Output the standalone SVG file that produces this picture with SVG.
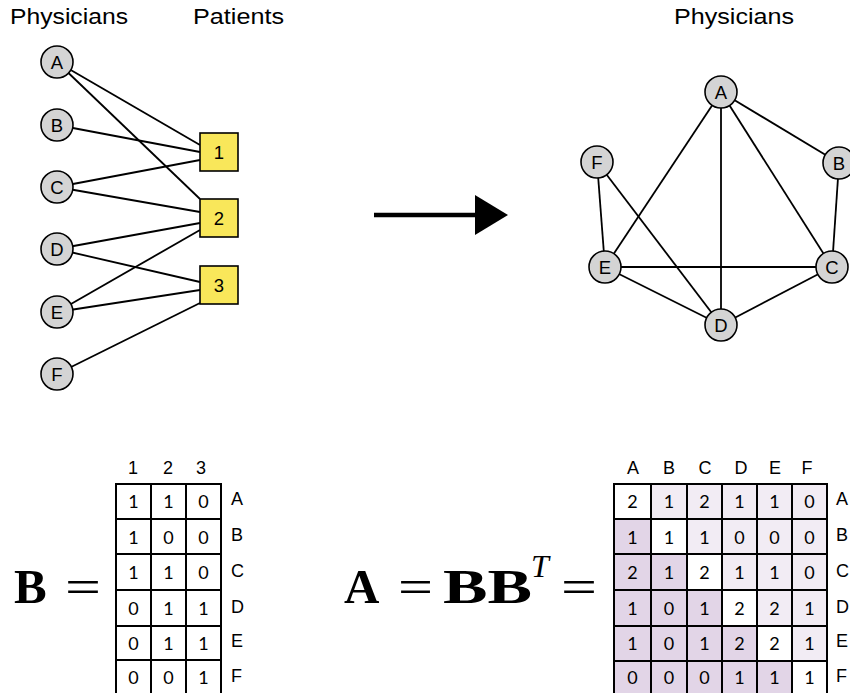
<svg xmlns="http://www.w3.org/2000/svg" width="850" height="693" viewBox="0 0 850 693">
<style>
.t{font-family:"Liberation Sans",Arial,sans-serif;fill:#000}
.title{font-size:22px}
.nl{font-size:18.5px;text-anchor:middle;dominant-baseline:central}
.lbl{font-size:18px}
.hd{font-size:18px;text-anchor:middle}
.c{fill:#d4d4d4;stroke:#000;stroke-width:1.6}
.sq{fill:#f9e75a;stroke:#000;stroke-width:1.6}
.e{stroke:#000;stroke-width:1.8;fill:none}
.num{font-family:Lato,"Open Sans","Liberation Sans",sans-serif;font-size:18px;text-anchor:middle;dominant-baseline:central;fill:#000}
.g{stroke:#000;stroke-width:2;fill:none}
.m{font-family:"Liberation Serif","Times New Roman",serif;font-weight:bold;font-size:49px;fill:#000}
.eq{font-family:"Liberation Serif","Times New Roman",serif;font-size:49px;fill:#000}
.wh{fill:#ffffff}.up{fill:#f2ecf4}.lo{fill:#e2d5e7}
</style>

<text class="t title" x="10" y="24" textLength="118" lengthAdjust="spacingAndGlyphs">Physicians</text>
<text class="t title" x="193" y="24" textLength="91" lengthAdjust="spacingAndGlyphs">Patients</text>
<text class="t title" x="674" y="24" textLength="120" lengthAdjust="spacingAndGlyphs">Physicians</text>

<g id="connectors">
  <line class="e" x1="57" y1="62" x2="200" y2="145"/>
  <line class="e" x1="57" y1="62" x2="200" y2="199"/>
  <line class="e" x1="57" y1="125" x2="200" y2="152"/>
  <line class="e" x1="57" y1="187" x2="200" y2="160"/>
  <line class="e" x1="57" y1="187" x2="200" y2="212"/>
  <line class="e" x1="57" y1="249" x2="200" y2="223"/>
  <line class="e" x1="57" y1="249" x2="200" y2="282"/>
  <line class="e" x1="57" y1="312" x2="200" y2="230"/>
  <line class="e" x1="57" y1="312" x2="200" y2="290"/>
  <line class="e" x1="57" y1="374" x2="200" y2="303"/>
  <line x1="374" y1="215" x2="478" y2="215" stroke="#000" stroke-width="4.5"/>
  <polygon points="475,195 508,215 475,235" fill="#000"/>
  <line class="e" x1="721" y1="92" x2="839" y2="163"/>
  <line class="e" x1="721" y1="92" x2="832" y2="267"/>
  <line class="e" x1="721" y1="92" x2="721" y2="325"/>
  <line class="e" x1="721" y1="92" x2="605" y2="267"/>
  <line class="e" x1="839" y1="163" x2="832" y2="267"/>
  <line class="e" x1="832" y1="267" x2="721" y2="325"/>
  <line class="e" x1="832" y1="267" x2="605" y2="267"/>
  <line class="e" x1="721" y1="325" x2="605" y2="267"/>
  <line class="e" x1="605" y1="267" x2="597" y2="162"/>
  <line class="e" x1="597" y1="162" x2="721" y2="325"/>
</g>

<g id="pA"><circle class="c" cx="57" cy="62" r="16"/><text class="t nl" x="57" y="62">A</text></g>
<g id="pB"><circle class="c" cx="57" cy="125" r="16"/><text class="t nl" x="57" y="125">B</text></g>
<g id="pC"><circle class="c" cx="57" cy="187" r="16"/><text class="t nl" x="57" y="187">C</text></g>
<g id="pD"><circle class="c" cx="57" cy="249" r="16"/><text class="t nl" x="57" y="249">D</text></g>
<g id="pE"><circle class="c" cx="57" cy="312" r="16"/><text class="t nl" x="57" y="312">E</text></g>
<g id="pF"><circle class="c" cx="57" cy="374" r="16"/><text class="t nl" x="57" y="374">F</text></g>

<g id="pat1"><rect class="sq" x="200" y="133" width="38" height="38"/><text class="t nl" x="219" y="152">1</text></g>
<g id="pat2"><rect class="sq" x="200" y="199" width="38" height="38"/><text class="t nl" x="219" y="218">2</text></g>
<g id="pat3"><rect class="sq" x="200" y="266" width="38" height="38"/><text class="t nl" x="219" y="285">3</text></g>

<g id="qA"><circle class="c" cx="721" cy="92" r="16"/><text class="t nl" x="721" y="92">A</text></g>
<g id="qB"><circle class="c" cx="839" cy="163" r="16"/><text class="t nl" x="839" y="163">B</text></g>
<g id="qC"><circle class="c" cx="832" cy="267" r="16"/><text class="t nl" x="832" y="267">C</text></g>
<g id="qD"><circle class="c" cx="721" cy="325" r="16"/><text class="t nl" x="721" y="325">D</text></g>
<g id="qE"><circle class="c" cx="605" cy="267" r="16"/><text class="t nl" x="605" y="267">E</text></g>
<g id="qF"><circle class="c" cx="597" cy="162" r="16"/><text class="t nl" x="597" y="162">F</text></g>

<!-- Matrix B -->
<g id="matB">
  <text class="m" x="14" y="603">B</text>
  <text class="eq" x="65" y="603" textLength="36" lengthAdjust="spacingAndGlyphs">=</text>
  <text class="t hd" x="133" y="474">1</text>
  <text class="t hd" x="168" y="474">2</text>
  <text class="t hd" x="201" y="474">3</text>
  <g class="g">
    <line x1="116" y1="483" x2="116" y2="693"/>
    <line x1="151" y1="483" x2="151" y2="693"/>
    <line x1="186" y1="483" x2="186" y2="693"/>
    <line x1="221" y1="483" x2="221" y2="693"/>
    <line x1="116" y1="484" x2="221" y2="484"/>
    <line x1="116" y1="519" x2="221" y2="519"/>
    <line x1="116" y1="554" x2="221" y2="554"/>
    <line x1="116" y1="590" x2="221" y2="590"/>
    <line x1="116" y1="626" x2="221" y2="626"/>
    <line x1="116" y1="660" x2="221" y2="660"/>
  </g>
  <g>
    <text class="num" x="133.5" y="501">1</text><text class="num" x="168.5" y="501">1</text><text class="num" x="203.5" y="501">0</text>
    <text class="num" x="133.5" y="537">1</text><text class="num" x="168.5" y="537">0</text><text class="num" x="203.5" y="537">0</text>
    <text class="num" x="133.5" y="572">1</text><text class="num" x="168.5" y="572">1</text><text class="num" x="203.5" y="572">0</text>
    <text class="num" x="133.5" y="608">0</text><text class="num" x="168.5" y="608">1</text><text class="num" x="203.5" y="608">1</text>
    <text class="num" x="133.5" y="643">0</text><text class="num" x="168.5" y="643">1</text><text class="num" x="203.5" y="643">1</text>
    <text class="num" x="133.5" y="677">0</text><text class="num" x="168.5" y="677">0</text><text class="num" x="203.5" y="677">1</text>
  </g>
  <text class="t lbl" x="231" y="505">A</text>
  <text class="t lbl" x="231" y="541">B</text>
  <text class="t lbl" x="231" y="577">C</text>
  <text class="t lbl" x="231" y="613">D</text>
  <text class="t lbl" x="231" y="647">E</text>
  <text class="t lbl" x="231" y="682">F</text>
</g>

<!-- Matrix A -->
<g id="matA">
  <text class="m" x="344" y="603">A</text>
  <text class="eq" x="398" y="603" textLength="35" lengthAdjust="spacingAndGlyphs">=</text>
  <text class="m" x="443" y="603" textLength="89" lengthAdjust="spacingAndGlyphs">BB</text>
  <text x="531" y="577" font-family="'Liberation Serif','Times New Roman',serif" font-style="italic" font-size="32" fill="#000">T</text>
  <text class="eq" x="561" y="603" textLength="36" lengthAdjust="spacingAndGlyphs">=</text>
  <g>
    <rect class="wh" x="614" y="484" width="37" height="35"/><rect class="up" x="651" y="484" width="36" height="35"/><rect class="up" x="687" y="484" width="35" height="35"/><rect class="up" x="722" y="484" width="35" height="35"/><rect class="up" x="757" y="484" width="35" height="35"/><rect class="up" x="792" y="484" width="35" height="35"/>
    <rect class="lo" x="614" y="519" width="37" height="35"/><rect class="wh" x="651" y="519" width="36" height="35"/><rect class="up" x="687" y="519" width="35" height="35"/><rect class="up" x="722" y="519" width="35" height="35"/><rect class="up" x="757" y="519" width="35" height="35"/><rect class="up" x="792" y="519" width="35" height="35"/>
    <rect class="lo" x="614" y="554" width="37" height="36"/><rect class="lo" x="651" y="554" width="36" height="36"/><rect class="wh" x="687" y="554" width="35" height="36"/><rect class="up" x="722" y="554" width="35" height="36"/><rect class="up" x="757" y="554" width="35" height="36"/><rect class="up" x="792" y="554" width="35" height="36"/>
    <rect class="lo" x="614" y="590" width="37" height="36"/><rect class="lo" x="651" y="590" width="36" height="36"/><rect class="lo" x="687" y="590" width="35" height="36"/><rect class="wh" x="722" y="590" width="35" height="36"/><rect class="up" x="757" y="590" width="35" height="36"/><rect class="up" x="792" y="590" width="35" height="36"/>
    <rect class="lo" x="614" y="626" width="37" height="35"/><rect class="lo" x="651" y="626" width="36" height="35"/><rect class="lo" x="687" y="626" width="35" height="35"/><rect class="lo" x="722" y="626" width="35" height="35"/><rect class="wh" x="757" y="626" width="35" height="35"/><rect class="up" x="792" y="626" width="35" height="35"/>
    <rect class="lo" x="614" y="661" width="37" height="32"/><rect class="lo" x="651" y="661" width="36" height="32"/><rect class="lo" x="687" y="661" width="35" height="32"/><rect class="lo" x="722" y="661" width="35" height="32"/><rect class="lo" x="757" y="661" width="35" height="32"/><rect class="wh" x="792" y="661" width="35" height="32"/>
  </g>
  <g class="g">
    <line x1="614" y1="483" x2="614" y2="693"/>
    <line x1="651" y1="483" x2="651" y2="693"/>
    <line x1="687" y1="483" x2="687" y2="693"/>
    <line x1="722" y1="483" x2="722" y2="693"/>
    <line x1="757" y1="483" x2="757" y2="693"/>
    <line x1="792" y1="483" x2="792" y2="693"/>
    <line x1="827" y1="483" x2="827" y2="693"/>
    <line x1="614" y1="484" x2="827" y2="484"/>
    <line x1="614" y1="519" x2="827" y2="519"/>
    <line x1="614" y1="554" x2="827" y2="554"/>
    <line x1="614" y1="590" x2="827" y2="590"/>
    <line x1="614" y1="626" x2="827" y2="626"/>
    <line x1="614" y1="661" x2="827" y2="661"/>
  </g>
  <text class="t hd" x="633" y="474">A</text>
  <text class="t hd" x="669" y="474">B</text>
  <text class="t hd" x="705" y="474">C</text>
  <text class="t hd" x="741" y="474">D</text>
  <text class="t hd" x="775" y="474">E</text>
  <text class="t hd" x="807" y="474">F</text>
  <g>
    <text class="num" x="632.5" y="501">2</text><text class="num" x="669" y="501">1</text><text class="num" x="704.5" y="501">2</text><text class="num" x="739.5" y="501">1</text><text class="num" x="774.5" y="501">1</text><text class="num" x="809.5" y="501">0</text>
    <text class="num" x="632.5" y="537">1</text><text class="num" x="669" y="537">1</text><text class="num" x="704.5" y="537">1</text><text class="num" x="739.5" y="537">0</text><text class="num" x="774.5" y="537">0</text><text class="num" x="809.5" y="537">0</text>
    <text class="num" x="632.5" y="572">2</text><text class="num" x="669" y="572">1</text><text class="num" x="704.5" y="572">2</text><text class="num" x="739.5" y="572">1</text><text class="num" x="774.5" y="572">1</text><text class="num" x="809.5" y="572">0</text>
    <text class="num" x="632.5" y="608">1</text><text class="num" x="669" y="608">0</text><text class="num" x="704.5" y="608">1</text><text class="num" x="739.5" y="608">2</text><text class="num" x="774.5" y="608">2</text><text class="num" x="809.5" y="608">1</text>
    <text class="num" x="632.5" y="643">1</text><text class="num" x="669" y="643">0</text><text class="num" x="704.5" y="643">1</text><text class="num" x="739.5" y="643">2</text><text class="num" x="774.5" y="643">2</text><text class="num" x="809.5" y="643">1</text>
    <text class="num" x="632.5" y="677">0</text><text class="num" x="669" y="677">0</text><text class="num" x="704.5" y="677">0</text><text class="num" x="739.5" y="677">1</text><text class="num" x="774.5" y="677">1</text><text class="num" x="809.5" y="677">1</text>
  </g>
  <text class="t lbl" x="836" y="505">A</text>
  <text class="t lbl" x="836" y="541">B</text>
  <text class="t lbl" x="836" y="577">C</text>
  <text class="t lbl" x="836" y="613">D</text>
  <text class="t lbl" x="836" y="647">E</text>
  <text class="t lbl" x="836" y="682">F</text>
</g>
</svg>
